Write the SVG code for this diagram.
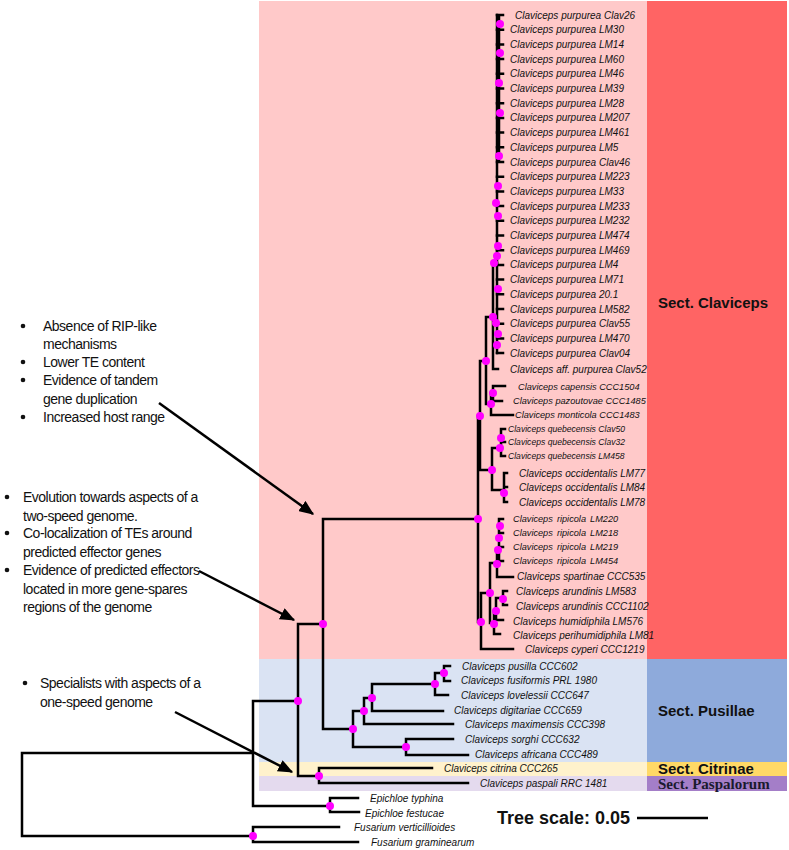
<svg xmlns="http://www.w3.org/2000/svg" width="789" height="850" viewBox="0 0 789 850">
<style>
.leaf{font-family:"Liberation Sans",Arial,sans-serif;font-style:italic;font-size:10px;fill:#111}
.s9{font-size:9.2px}
.s86{font-size:8.6px}
.note{font-family:"Liberation Sans",Arial,sans-serif;font-size:14px;letter-spacing:-0.5px;fill:#111}
.sect{font-family:"Liberation Sans",Arial,sans-serif;font-weight:bold;font-size:15px;fill:#111}
.sectS{font-family:"Liberation Serif","Times New Roman",serif;font-weight:bold;font-size:15px;fill:#1a1a2e}
.tree{fill:none;stroke:#000;stroke-width:2.5;stroke-linecap:square}
.arr{fill:none;stroke:#000;stroke-width:2.5}
.dot{fill:#f0f}
</style>
<defs>
<marker id="ah" markerWidth="6" markerHeight="5" refX="5.5" refY="2.5" orient="auto" markerUnits="strokeWidth">
<path d="M0,0 L6,2.5 L0,5 Z" fill="#000"/>
</marker>
</defs>
<rect width="789" height="850" fill="#fff"/>
<g id="backgrounds">
<rect x="259" y="1" width="388" height="658" fill="#ffc9c9"/>
<rect x="647" y="1" width="140" height="658" fill="#ff6464"/>
<rect x="259" y="659" width="388" height="103" fill="#dae3f3"/>
<rect x="647" y="659" width="140" height="103" fill="#8eaadb"/>
<rect x="259" y="762" width="388" height="14" fill="#fff2cc"/>
<rect x="647" y="762" width="140" height="14" fill="#ffd966"/>
<rect x="259" y="776" width="388" height="15" fill="#e4daee"/>
<rect x="647" y="776" width="140" height="15" fill="#a47ec8"/>
</g>
<g id="sections">
<text class="sect" x="658" y="308">Sect. Claviceps</text>
<text class="sect" x="658" y="716">Sect. Pusillae</text>
<text class="sect" x="658" y="774">Sect. Citrinae</text>
<text class="sectS" x="658" y="789">Sect. Paspalorum</text>
</g>
<g id="connectors">
<path class="tree" d="M22,753 V836 M22,753 H253 M22,836 H253
M253,827 V842 M253,827 H339 M253,842 H358
M253,701 V806 M253,701 H298 M253,806 H330
M330,798 V812 M330,798 H358 M330,812 H359
M298,624 V776 M298,624 H323 M298,776 H319
M319,768 V783 M319,768 H432 M319,783 H468
M323,519 V729 M323,519 H478 M323,729 H353
M353,711 V747 M353,711 H364 M353,747 H406
M364,698 V724 M364,698 H372 M364,724 H453
M372,684 V711 M372,684 H435 M372,711 H443
M435,673 V695 M435,673 H444 M435,695 H448
M444,666 V681 M444,666 H450 M444,681 H450
M406,739 V755 M406,739 H453 M406,755 H468
M478,416 V622 M478,416 H480 M478,622 H481
M480,361 V470 M480,361 H486 M480,470 H492
M486,317 V404 M486,317 H493 M486,404 H491
M493,263 V369 M493,263 H497 M493,369 H498
M491,393 V415 M491,393 H493 M491,415 H513
M493,386 V401 M493,386 H505 M493,401 H502
M492,448 V490 M492,448 H500 M492,490 H504
M501,429 V456 M501,429 H505 M501,442 H505 M501,456 H505
M504,473 V502 M504,473 H507 M504,487 H507 M504,502 H507
M481,593 V649 M481,593 H490 M481,649 H513
M490,563 V623 M490,563 H497 M490,623 H494
M497,550 V577 M497,550 H499 M497,577 H513
M499,519 V561 M499,519 H503 M499,533 H503 M499,547 H503 M499,561 H503
M494,611 V634 M494,611 H496 M494,634 H500
M496,598 V620 M496,598 H503 M496,620 H503
M503,591 V605 M503,591 H507 M503,605 H507"/>
<path class="tree" stroke-width="3.2" d="M497,15 V353"/>
<path class="tree" stroke-width="2" d="M499,15 V160
M497,15 H503 M497,29.7 H503 M497,44.4 H503 M497,59.1 H503 M497,73.8 H503 M497,88.5 H503
M497,103.2 H503 M497,117.9 H503 M497,132.6 H503 M497,147.3 H503 M497,162 H503 M497,176.7 H503
M497,191.4 H503 M497,206.1 H503 M497,220.8 H503 M497,235.5 H503 M497,250.2 H503 M497,264.9 H503
M497,279.6 H503 M497,294.3 H503 M497,309 H503 M497,323.7 H503 M497,338.4 H503 M497,353.1 H503"/>
<line class="arr" x1="159" y1="403" x2="313" y2="514" marker-end="url(#ah)"/>
<line class="arr" x1="199" y1="571" x2="294" y2="620" marker-end="url(#ah)"/>
<line class="arr" x1="175" y1="712" x2="292" y2="772" marker-end="url(#ah)"/>
<line x1="637" y1="818" x2="708" y2="818" stroke="#000" stroke-width="2.5"/>
</g>
<g id="nodes">
<circle class="dot" cx="500" cy="24" r="4"/><circle class="dot" cx="500" cy="53" r="4"/>
<circle class="dot" cx="499" cy="83" r="4"/><circle class="dot" cx="500" cy="113" r="4"/>
<circle class="dot" cx="499" cy="156" r="4"/><circle class="dot" cx="498" cy="186" r="4"/>
<circle class="dot" cx="496" cy="203" r="4"/><circle class="dot" cx="498" cy="216" r="4"/>
<circle class="dot" cx="498" cy="246" r="4"/><circle class="dot" cx="497" cy="256" r="4"/>
<circle class="dot" cx="494" cy="263" r="4"/><circle class="dot" cx="498" cy="289" r="4"/>
<circle class="dot" cx="493" cy="317" r="4"/><circle class="dot" cx="496" cy="323" r="4"/>
<circle class="dot" cx="498" cy="334" r="4"/><circle class="dot" cx="497" cy="345" r="4"/>
<circle class="dot" cx="486" cy="361" r="4"/><circle class="dot" cx="493" cy="393" r="4"/>
<circle class="dot" cx="491" cy="404" r="4"/><circle class="dot" cx="480" cy="416" r="4"/>
<circle class="dot" cx="501" cy="438" r="4"/><circle class="dot" cx="500" cy="448" r="4"/>
<circle class="dot" cx="492" cy="470" r="4"/><circle class="dot" cx="504" cy="493" r="4"/>
<circle class="dot" cx="478" cy="519" r="4"/><circle class="dot" cx="500" cy="526" r="4"/>
<circle class="dot" cx="499" cy="538" r="4"/><circle class="dot" cx="498" cy="550" r="4"/>
<circle class="dot" cx="497" cy="564" r="4"/><circle class="dot" cx="490" cy="593" r="4"/>
<circle class="dot" cx="503" cy="599" r="4"/><circle class="dot" cx="496" cy="611" r="4"/>
<circle class="dot" cx="481" cy="622" r="4"/><circle class="dot" cx="494" cy="624" r="4"/>
<circle class="dot" cx="323" cy="624" r="4"/><circle class="dot" cx="298" cy="701" r="4"/>
<circle class="dot" cx="444" cy="673" r="4"/><circle class="dot" cx="435" cy="684" r="4"/>
<circle class="dot" cx="372" cy="698" r="4"/><circle class="dot" cx="364" cy="711" r="4"/>
<circle class="dot" cx="353" cy="729" r="4"/><circle class="dot" cx="406" cy="747" r="4"/>
<circle class="dot" cx="319" cy="776" r="4"/><circle class="dot" cx="330" cy="806" r="4"/>
<circle class="dot" cx="253" cy="836" r="4"/>
</g>
<g id="leaves">
<g id="l1"><text class="leaf" x="515" y="18.5">Claviceps purpurea Clav26</text></g>
<g id="l2"><text class="leaf" x="510" y="33.2">Claviceps purpurea LM30</text></g>
<g id="l3"><text class="leaf" x="510" y="47.9">Claviceps purpurea LM14</text></g>
<g id="l4"><text class="leaf" x="510" y="62.6">Claviceps purpurea LM60</text></g>
<g id="l5"><text class="leaf" x="510" y="77.3">Claviceps purpurea LM46</text></g>
<g id="l6"><text class="leaf" x="510" y="92">Claviceps purpurea LM39</text></g>
<g id="l7"><text class="leaf" x="510" y="106.7">Claviceps purpurea LM28</text></g>
<g id="l8"><text class="leaf" x="510" y="121.4">Claviceps purpurea LM207</text></g>
<g id="l9"><text class="leaf" x="510" y="136.1">Claviceps purpurea LM461</text></g>
<g id="l10"><text class="leaf" x="510" y="150.8">Claviceps purpurea LM5</text></g>
<g id="l11"><text class="leaf" x="510" y="165.5">Claviceps purpurea Clav46</text></g>
<g id="l12"><text class="leaf" x="510" y="180.2">Claviceps purpurea LM223</text></g>
<g id="l13"><text class="leaf" x="510" y="194.9">Claviceps purpurea LM33</text></g>
<g id="l14"><text class="leaf" x="510" y="209.6">Claviceps purpurea LM233</text></g>
<g id="l15"><text class="leaf" x="510" y="224.3">Claviceps purpurea LM232</text></g>
<g id="l16"><text class="leaf" x="510" y="239">Claviceps purpurea LM474</text></g>
<g id="l17"><text class="leaf" x="510" y="253.7">Claviceps purpurea LM469</text></g>
<g id="l18"><text class="leaf" x="510" y="268.4">Claviceps purpurea LM4</text></g>
<g id="l19"><text class="leaf" x="510" y="283.1">Claviceps purpurea LM71</text></g>
<g id="l20"><text class="leaf" x="510" y="297.8">Claviceps purpurea 20.1</text></g>
<g id="l21"><text class="leaf" x="510" y="312.5">Claviceps purpurea LM582</text></g>
<g id="l22"><text class="leaf" x="510" y="327.2">Claviceps purpurea Clav55</text></g>
<g id="l23"><text class="leaf" x="510" y="341.9">Claviceps purpurea LM470</text></g>
<g id="l24"><text class="leaf" x="510" y="356.6">Claviceps purpurea Clav04</text></g>
<g id="l25"><text class="leaf" x="510" y="372.5">Claviceps aff. purpurea Clav52</text></g>
<g id="l26"><text class="leaf s9" x="518" y="390.2">Claviceps capensis CCC1504</text></g>
<g id="l27"><text class="leaf s9" x="513" y="404.2">Claviceps pazoutovae CCC1485</text></g>
<g id="l28"><text class="leaf s9" x="515" y="418.2">Claviceps monticola CCC1483</text></g>
<g id="l29"><text class="leaf s86" x="508" y="432">Claviceps quebecensis Clav50</text></g>
<g id="l30"><text class="leaf s86" x="508" y="445">Claviceps quebecensis Clav32</text></g>
<g id="l31"><text class="leaf s86" x="508" y="459">Claviceps quebecensis LM458</text></g>
<g id="l32"><text class="leaf" x="519" y="476.5">Claviceps occidentalis LM77</text></g>
<g id="l33"><text class="leaf" x="519" y="490.5">Claviceps occidentalis LM84</text></g>
<g id="l34"><text class="leaf" x="519" y="505.5">Claviceps occidentalis LM78</text></g>
<g id="l35"><text class="leaf s9" x="513" y="522" word-spacing="1.5">Claviceps ripicola LM220</text></g>
<g id="l36"><text class="leaf s9" x="513" y="536" word-spacing="1.5">Claviceps ripicola LM218</text></g>
<g id="l37"><text class="leaf s9" x="513" y="550" word-spacing="1.5">Claviceps ripicola LM219</text></g>
<g id="l38"><text class="leaf s9" x="513" y="564" word-spacing="1.5">Claviceps ripicola LM454</text></g>
<g id="l39"><text class="leaf" x="517" y="580">Claviceps spartinae CCC535</text></g>
<g id="l40"><text class="leaf" x="516" y="594.5">Claviceps arundinis LM583</text></g>
<g id="l41"><text class="leaf" x="516" y="609.5">Claviceps arundinis CCC1102</text></g>
<g id="l42"><text class="leaf" x="513" y="624.5">Claviceps humidiphila LM576</text></g>
<g id="l43"><text class="leaf" x="513" y="638.5">Claviceps perihumidiphila LM81</text></g>
<g id="l44"><text class="leaf" x="525" y="652.5">Claviceps cyperi CCC1219</text></g>
<g id="l45"><text class="leaf" x="462" y="669.5">Claviceps pusilla CCC602</text></g>
<g id="l46"><text class="leaf" x="461" y="683.5">Claviceps fusiformis PRL 1980</text></g>
<g id="l47"><text class="leaf" x="461" y="698.5">Claviceps lovelessii CCC647</text></g>
<g id="l48"><text class="leaf" x="454" y="713.5">Claviceps digitariae CCC659</text></g>
<g id="l49"><text class="leaf" x="465" y="727.5">Claviceps maximensis CCC398</text></g>
<g id="l50"><text class="leaf" x="465" y="742.5">Claviceps sorghi CCC632</text></g>
<g id="l51"><text class="leaf" x="475" y="757.5">Claviceps africana CCC489</text></g>
<g id="l52"><text class="leaf" x="444" y="771.5">Claviceps citrina CCC265</text></g>
<g id="l53"><text class="leaf" x="480" y="786.5">Claviceps paspali RRC 1481</text></g>
<g id="l54"><text class="leaf" x="370" y="801.5">Epichloe typhina</text></g>
<g id="l55"><text class="leaf" x="365" y="816.5">Epichloe festucae</text></g>
<g id="l56"><text class="leaf" x="354" y="830.5">Fusarium verticillioides</text></g>
<g id="l57"><text class="leaf" x="371" y="845.5">Fusarium graminearum</text></g>
</g>
<g id="note1">
<circle cx="23" cy="326" r="2.3" fill="#111"/><circle cx="23" cy="362" r="2.3" fill="#111"/>
<circle cx="23" cy="380" r="2.3" fill="#111"/><circle cx="23" cy="417" r="2.3" fill="#111"/>
<text class="note" x="43" y="331">Absence of RIP-like</text>
<text class="note" x="43" y="349">mechanisms</text>
<text class="note" x="43" y="367">Lower TE content</text>
<text class="note" x="43" y="385">Evidence of tandem</text>
<text class="note" x="43" y="404">gene duplication</text>
<text class="note" x="43" y="422">Increased host range</text>
</g>
<g id="note2">
<circle cx="7" cy="497" r="2.3" fill="#111"/><circle cx="7" cy="533" r="2.3" fill="#111"/>
<circle cx="7" cy="570" r="2.3" fill="#111"/>
<text class="note" x="23" y="502">Evolution towards aspects of a</text>
<text class="note" x="23" y="521">two-speed genome.</text>
<text class="note" x="23" y="538">Co-localization of TEs around</text>
<text class="note" x="23" y="557">predicted effector genes</text>
<text class="note" x="23" y="575">Evidence of predicted effectors</text>
<text class="note" x="23" y="594">located in more gene-spares</text>
<text class="note" x="23" y="612">regions of the genome</text>
</g>
<g id="note3">
<circle cx="25" cy="683" r="2.3" fill="#111"/>
<text class="note" x="40" y="688">Specialists with aspects of a</text>
<text class="note" x="40" y="707">one-speed genome</text>
</g>
<g id="scale">
<text x="497" y="824" font-family="Liberation Sans,Arial,sans-serif" font-weight="bold" font-size="18" fill="#111">Tree scale: 0.05</text>
</g>
</svg>
